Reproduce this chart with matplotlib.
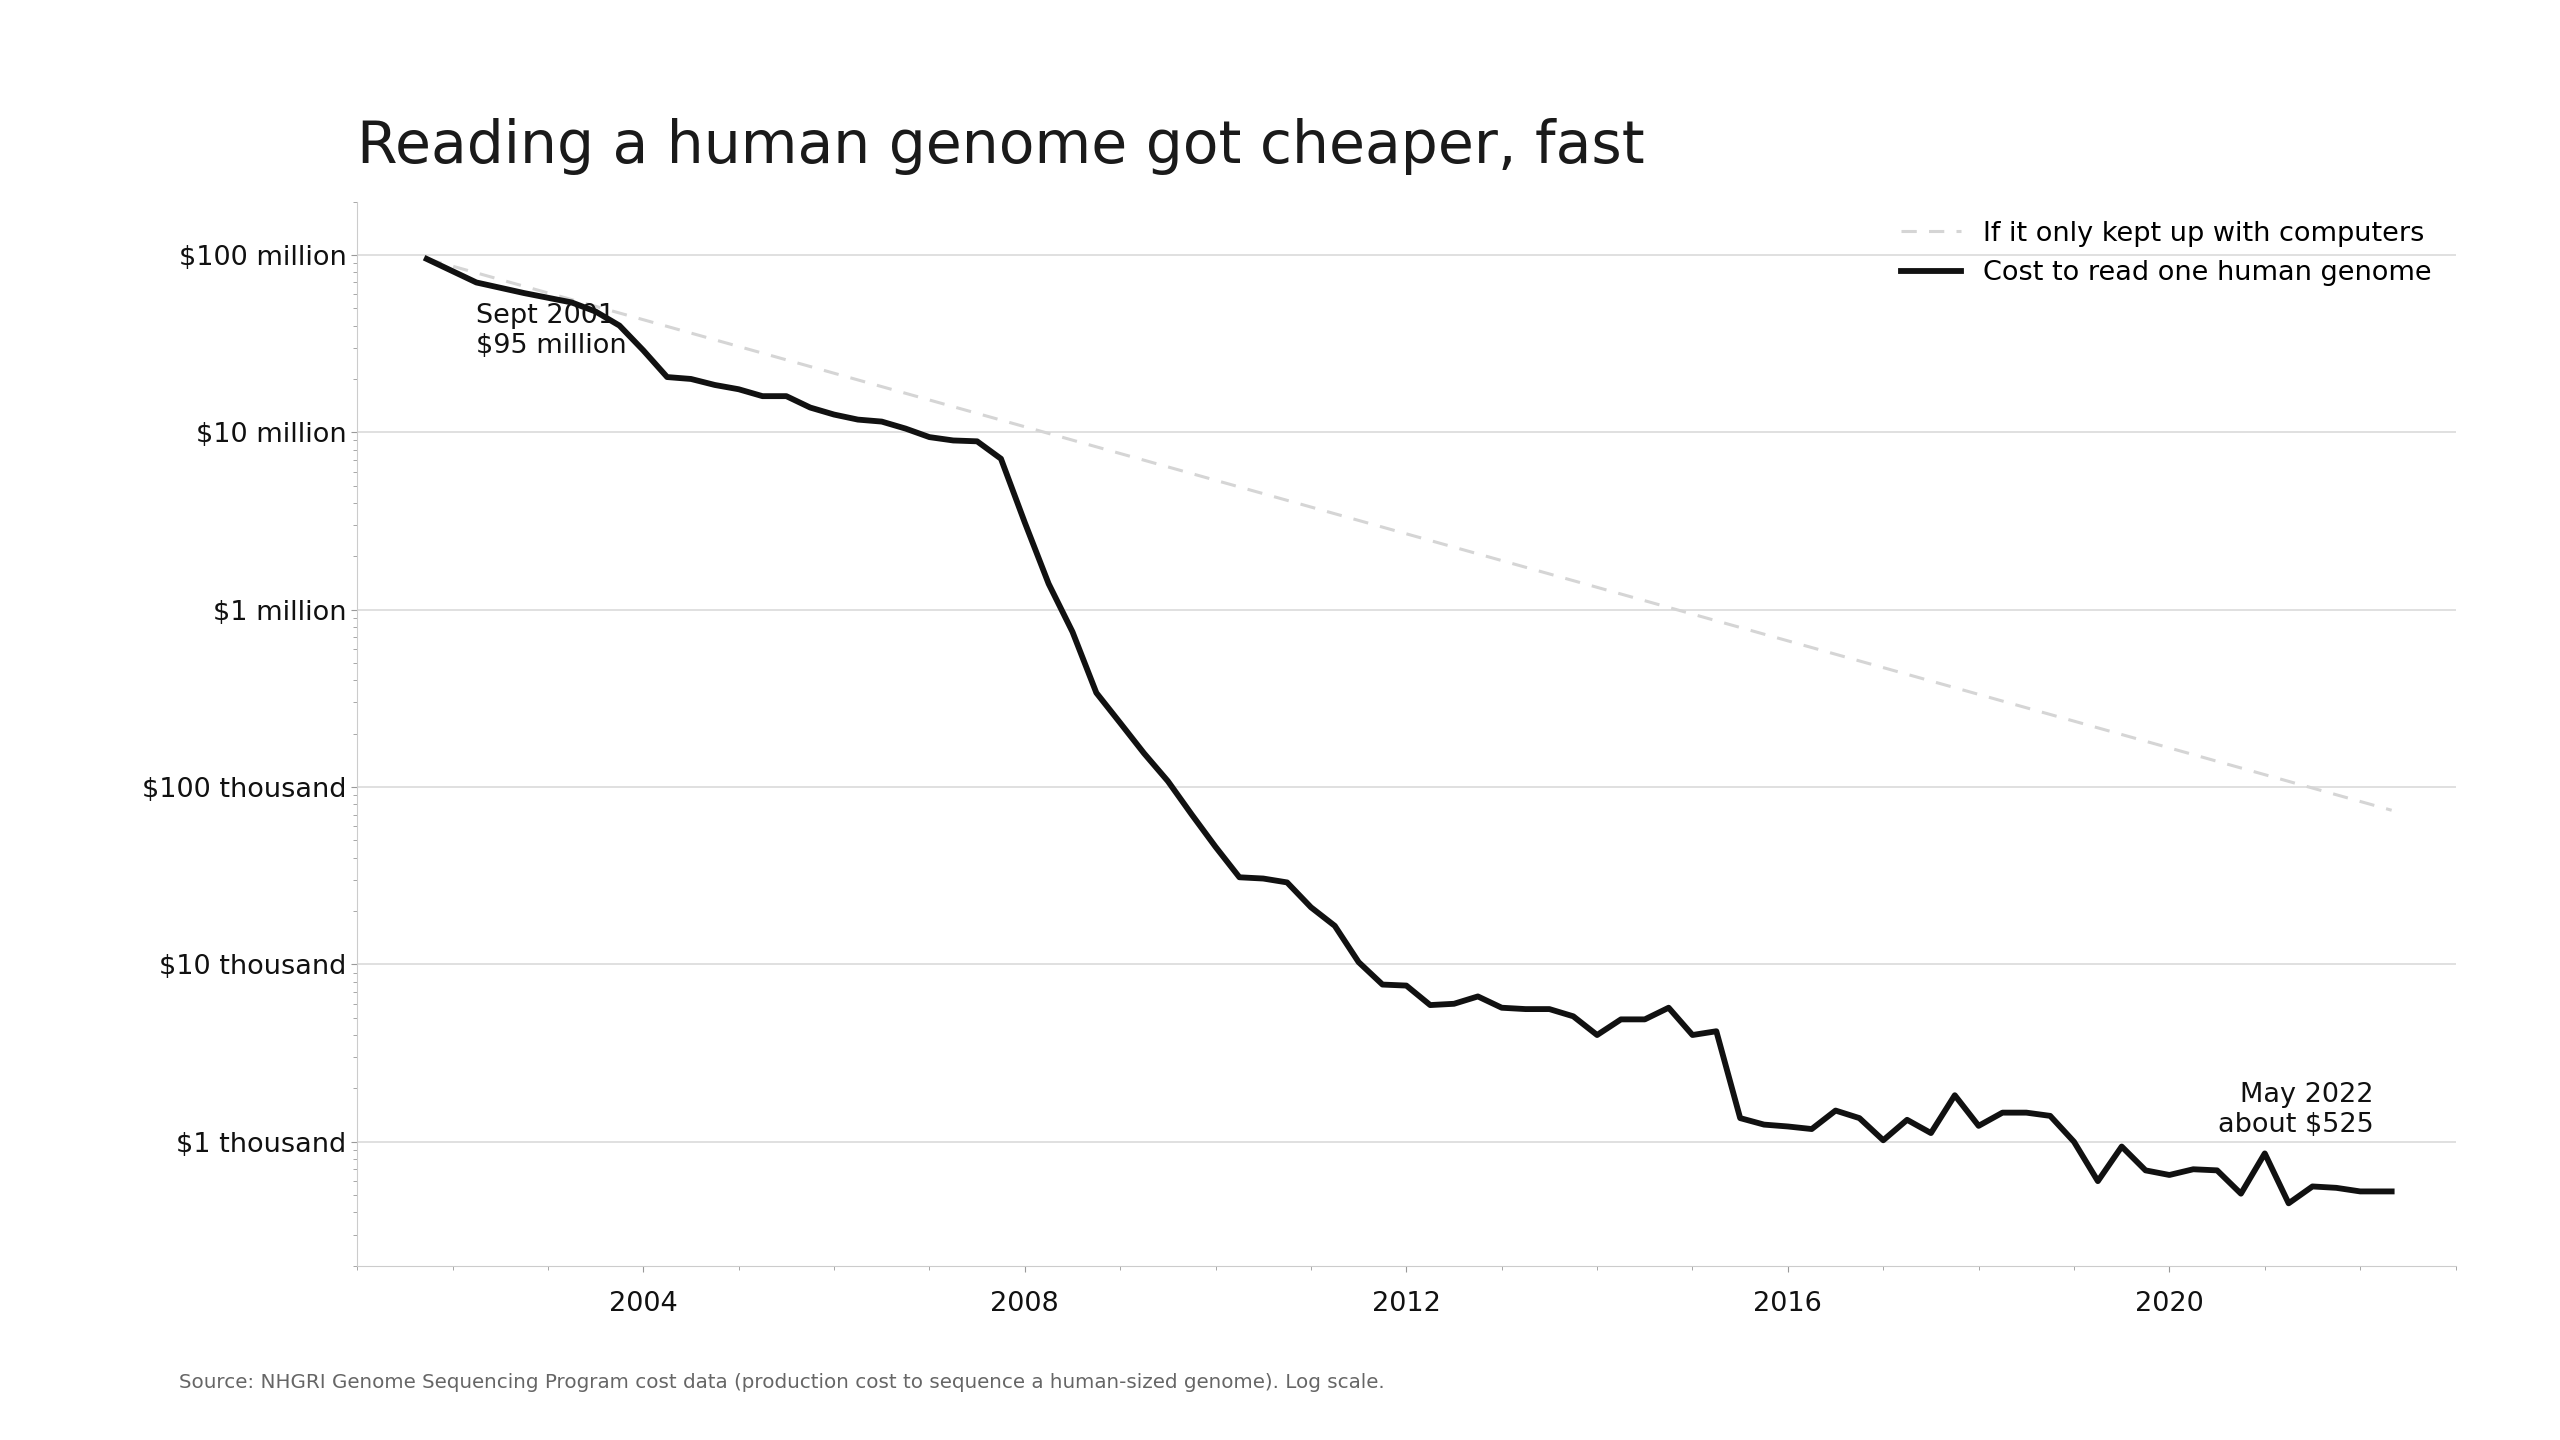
import matplotlib.pyplot as plt
from matplotlib.ticker import FixedLocator, LogLocator, NullFormatter, MultipleLocator

# quarterly cost to sequence a human genome (USD)
years = [
    2001.73, 2002.25, 2002.75, 2003.25, 2003.5, 2003.75, 2004.0, 2004.25, 2004.5, 2004.75,
    2005.0, 2005.25, 2005.5, 2005.75, 2006.0, 2006.25, 2006.5, 2006.75, 2007.0, 2007.25,
    2007.5, 2007.75, 2008.0, 2008.25, 2008.5, 2008.75, 2009.0, 2009.25, 2009.5, 2009.75,
    2010.0, 2010.25, 2010.5, 2010.75, 2011.0, 2011.25, 2011.5, 2011.75, 2012.0, 2012.25,
    2012.5, 2012.75, 2013.0, 2013.25, 2013.5, 2013.75, 2014.0, 2014.25, 2014.5, 2014.75,
    2015.0, 2015.25, 2015.5, 2015.75, 2016.0, 2016.25, 2016.5, 2016.75, 2017.0, 2017.25,
    2017.5, 2017.75, 2018.0, 2018.25, 2018.5, 2018.75, 2019.0, 2019.25, 2019.5, 2019.75,
    2020.0, 2020.25, 2020.5, 2020.75, 2021.0, 2021.25, 2021.5, 2021.75, 2022.0, 2022.33,
]
cost = [
    95e6, 70e6, 61e6, 54e6, 48e6, 40e6, 29e6, 20.5e6, 20e6, 18.5e6,
    17.5e6, 16e6, 16e6, 13.8e6, 12.6e6, 11.8e6, 11.5e6, 10.5e6, 9.4e6, 9.0e6,
    8.9e6, 7.1e6, 3.1e6, 1.4e6, 750e3, 340e3, 230e3, 155e3, 108e3, 70e3,
    46e3, 31e3, 30.5e3, 29e3, 21e3, 16.5e3, 10.3e3, 7.7e3, 7.6e3, 5.9e3,
    6.0e3, 6.6e3, 5.7e3, 5.6e3, 5.6e3, 5.1e3, 4.0e3, 4.9e3, 4.9e3, 5.7e3,
    4.0e3, 4.2e3, 1360, 1250, 1220, 1180, 1500, 1360, 1020, 1330,
    1120, 1830, 1230, 1460, 1460, 1400, 1000, 600, 940, 690,
    650, 700, 690, 510, 860, 450, 560, 550, 525, 525,
]

# Moore's-law reference, start and end
moore_years = [2001.73, 2022.33]
moore_cost = [95e6, 74e3]

tick_vals = [1e3, 1e4, 1e5, 1e6, 1e7, 1e8]
tick_labels = ["$1 thousand", "$10 thousand", "$100 thousand",
               "$1 million", "$10 million", "$100 million"]

fig = plt.figure(figsize=(25.6, 14.4), dpi=100)
ax = fig.add_axes([0.1395, 0.121, 0.8197, 0.739])

ax.plot(moore_years, moore_cost, color="#d5d5d5", linestyle=(0, (5, 4)), linewidth=2.2,
        label="If it only kept up with computers")
ax.plot(years, cost, color="#111111", linewidth=4.2, label="Cost to read one human genome")

ax.set_yscale("log")
ax.set_xlim(2001.0, 2023.0)
ax.set_ylim(200, 2e8)
ax.yaxis.set_major_locator(FixedLocator(tick_vals))
ax.set_yticklabels(tick_labels)
ax.yaxis.set_minor_locator(LogLocator(base=10, subs=range(2, 10), numticks=20))
ax.yaxis.set_minor_formatter(NullFormatter())
ax.xaxis.set_major_locator(FixedLocator([2004, 2008, 2012, 2016, 2020]))
ax.xaxis.set_minor_locator(MultipleLocator(1))
ax.tick_params(axis="both", which="major", labelsize=19.5, color="#999999", length=4,
               labelcolor="#111111")
ax.tick_params(axis="both", which="minor", color="#999999", length=3)
ax.tick_params(axis="x", pad=14)
ax.grid(True, axis="y", which="major", color="#dddddd", linewidth=1.3)
ax.set_axisbelow(True)
for side in ("top", "right"):
    ax.spines[side].set_visible(False)
for side in ("left", "bottom"):
    ax.spines[side].set_color("#cccccc")

ax.legend(loc="upper right", frameon=False, fontsize=19.5, bbox_to_anchor=(1.0, 1.005),
          handlelength=2.2)

ax.text(2002.25, 2.6e7, "Sept 2001\n$95 million", fontsize=19.5, color="#111111",
        ha="left", va="bottom", linespacing=1.2)
ax.text(2022.14, 1.05e3, "May 2022\nabout $525", fontsize=19.5, color="#111111",
        ha="right", va="bottom", linespacing=1.2)

fig.text(0.1395, 0.887, "Reading a human genome got cheaper, fast", fontsize=42,
         color="#1a1a1a", ha="left", va="baseline")
fig.text(0.070, 0.036, "Source: NHGRI Genome Sequencing Program cost data (production cost "
         "to sequence a human-sized genome). Log scale.", fontsize=14.3, color="#666666")

fig.savefig("out.png", dpi=100)
